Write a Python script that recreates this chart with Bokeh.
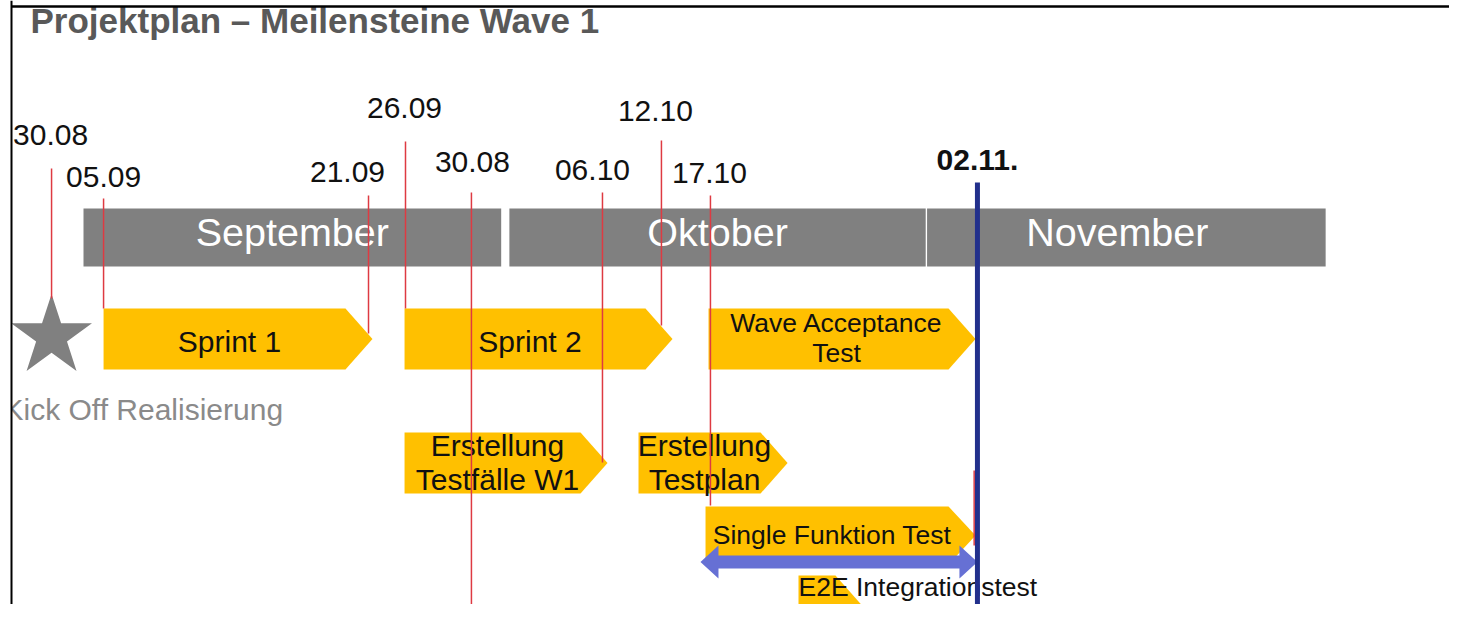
from bokeh.plotting import figure
from bokeh.models import Range1d, Span
from bokeh.core.properties import value
from bokeh.embed import file_html
from bokeh.resources import INLINE

# ---------------- data (positions in days counted from 1 September) -------------
title = "Projektplan – Meilensteine Wave 1"

months = ["September", "Oktober", "November"]
month_start = [0.0, 31.2, 61.8]
month_end = [30.6, 61.7, 91.0]

milestone_labels = ["30.08", "05.09", "21.09", "26.09", "30.08", "06.10", "12.10", "17.10"]
milestone_pos = [-2.34, 1.47, 20.88, 23.59, 28.42, 38.02, 42.34, 45.93]

deadline_label = "02.11."
deadline_pos = 65.49

kickoff_label = "Kick Off Realisierung"
kickoff_pos = -2.34

tasks = ["Sprint 1", "Sprint 2", "Wave Acceptance\nTest", "Erstellung\nTestfälle W1",
         "Erstellung\nTestplan", "Single Funktion Test", "E2E Integrationstest"]
task_start = [1.47, 23.52, 45.79, 23.52, 40.66, 45.57, 52.38]
task_end = [21.17, 43.15, 65.35, 38.39, 51.58, 65.35, 57.07]

test_window_start = 45.2
test_window_end = 65.49

# ---------------- layout / style (screen pixels) ----------------
PX0 = 83.0      # screen x of 1 September
PXD = 13.65     # pixels per day
W, H = 1449, 604
X_LEFT = (0 - PX0) / PXD
X_RIGHT = (W - PX0) / PXD
X_FRAME = (11 - PX0) / PXD
BASE_SHIFT = 0.36   # em correction between wanted baseline and rendered one


def ty(base, fs):
    return base - BASE_SHIFT * fs


ms_label_y = [145, 187, 182, 118, 172, 180, 121, 183]
ms_label_dx = [-1, 0, -21, -1, 1, -10, -6, -1]
ms_line_top = [168, 198, 195, 141, 192, 192, 140, 195]
ms_line_bot = [298, 308, 333, 308, 620, 462, 325, 505]

task_top = [308, 308, 308, 432, 432, 506, 575]
task_bot = [369, 369, 369, 493, 493, 564, 636]
task_text_dx = [5, 5, 8, 5, 5, 5, 0]
task_text_base = [[352], [352], [332, 362], [456, 490], [456, 490], [544], [596]]
task_font = [30, 30, 26.5, 30, 30, 26.5, 26.5]
task_align = ["center"] * 6 + ["left"]

TIP = 27 / PXD
HEAD = 18 / PXD
FONT = "Liberation Sans"
YELLOW = "#FFC000"
GREY = "#808080"
RED = "#DE3A42"
NAVY = "#22308C"
BLUE = "#6670D4"

p = figure(width=W, height=H, x_range=Range1d(X_LEFT, X_RIGHT), y_range=Range1d(H, 0),
           output_backend="svg", toolbar_location=None, min_border=0,
           x_axis_type=None, y_axis_type=None, outline_line_color=None,
           background_fill_color="white", border_fill_color="white")
p.grid.visible = False

# title
p.text(x=[(30 - PX0) / PXD], y=[ty(33, 35)], text=[title], text_font=value(FONT),
       text_font_size="35px", text_font_style="bold", text_color="#595959",
       text_align="left", text_baseline="alphabetic")

# month bars
p.quad(left=month_start, right=month_end, top=[208] * 3, bottom=[266] * 3,
       fill_color=GREY, line_color=None)
p.text(x=[(a + b) / 2 for a, b in zip(month_start, month_end)], y=[ty(246, 39.5)] * 3,
       text=months, x_offset=[0, 0, -9], text_font=value(FONT), text_font_size="39.5px",
       text_color="white", text_align="center", text_baseline="alphabetic")

# task arrows (pentagons)
xs, ys = [], []
for s, e, t, b in zip(task_start, task_end, task_top, task_bot):
    xs.append([s, e - TIP, e, e - TIP, s])
    ys.append([t, t, (t + b) / 2, b, b])
p.patches(xs, ys, fill_color=YELLOW, line_color=None)

# kick off star
p.scatter(x=[kickoff_pos], y=[336], marker="star", size=85, fill_color=GREY, line_color=None)
p.text(x=[(3 - PX0) / PXD], y=[ty(420, 30)], text=[kickoff_label], text_font=value(FONT),
       text_font_size="30px", text_color="#8A8A8A", text_align="left", text_baseline="alphabetic")
# the slide frame hides the first letter partly
p.quad(left=[X_LEFT], right=[X_FRAME], top=[0], bottom=[H],
       fill_color="white", line_color=None)

# task texts
for name, s, e, dx, bases, fs, al in zip(tasks, task_start, task_end, task_text_dx,
                                         task_text_base, task_font, task_align):
    lines = name.split("\n")
    xc = (s + e - TIP) / 2 if al == "center" else s
    p.text(x=[xc] * len(lines), y=[ty(b, fs) for b in bases], text=lines, x_offset=dx,
           text_font=value(FONT), text_font_size=f"{fs}px", text_color="#111111",
           text_align=al, text_baseline="alphabetic")

# red milestone lines
p.segment(x0=milestone_pos, y0=ms_line_top, x1=milestone_pos, y1=ms_line_bot,
          line_color=RED, line_width=1.5)
p.segment(x0=[task_end[5] - 0.1], y0=[470], x1=[task_end[5] - 0.1], y1=[545],
          line_color=RED, line_width=1.5)

# milestone labels
p.text(x=milestone_pos, y=[ty(v, 30) for v in ms_label_y], text=milestone_labels,
       x_offset=ms_label_dx, text_font=value(FONT), text_font_size="30px",
       text_color="#111111", text_align="center", text_baseline="alphabetic")

# blue double arrow (test window)
s, e = test_window_start, test_window_end
p.patch([s, s + HEAD, s + HEAD, e - HEAD, e - HEAD, e, e - HEAD, e - HEAD, s + HEAD, s + HEAD],
        [561.5, 545, 555, 555, 545, 561.5, 578, 568, 568, 578],
        fill_color=BLUE, line_color=None)

# deadline line
p.segment(x0=[deadline_pos], y0=[182], x1=[deadline_pos], y1=[620], line_color=NAVY, line_width=5)
p.text(x=[deadline_pos], y=[ty(170, 30)], text=[deadline_label], text_font=value(FONT),
       text_font_size="30px", text_font_style="bold", text_color="#111111",
       text_align="center", text_baseline="alphabetic")

# borders of the slide frame
p.add_layout(Span(location=X_FRAME, dimension="height", line_color="black", line_width=2))
p.segment(x0=[X_FRAME], y0=[6], x1=[X_RIGHT], y1=[6], line_color="black", line_width=2.5)

open("out.html", "w").write(file_html(p, INLINE))
